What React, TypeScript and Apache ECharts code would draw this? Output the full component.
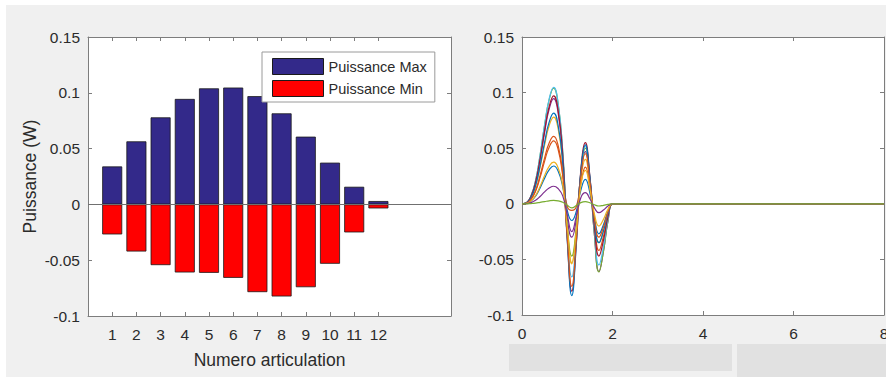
import React, { useEffect, useRef } from 'react';
import * as echarts from 'echarts';

// ---------- Left chart data ----------
const CATEGORIES = ['1', '2', '3', '4', '5', '6', '7', '8', '9', '10', '11', '12'];
const MAX_POWER = [0.034, 0.0565, 0.078, 0.0945, 0.104, 0.1047, 0.097, 0.0816, 0.0607, 0.0374, 0.0158, 0.003];
const MIN_POWER = [-0.0269, -0.0422, -0.0544, -0.061, -0.0613, -0.0658, -0.0786, -0.0825, -0.0742, -0.0532, -0.0251, -0.0036];
const Y_TICK_LABELS = ['-0.1', '-0.05', '0', '0.05', '0.1', '0.15'];

// ---------- Right chart data ----------
const TIME = [0, 0.1, 0.2, 0.3, 0.4, 0.5, 0.6, 0.7, 0.8, 0.9, 1.0, 1.1, 1.2, 1.3, 1.4, 1.5, 1.6, 1.7, 1.8, 1.9, 2.0, 2.1, 8];
const X_TICK_LABELS_RIGHT = ['0', '2', '4', '6', '8'];

const CURVE_J1 = [0, 0.0003, 0.0024, 0.0068, 0.0143, 0.0231, 0.0306, 0.034, 0.0292, 0.0153, -0.006, -0.015, -0.0068, 0.0121, 0.022, 0.0099, -0.0122, -0.027, -0.0189, -0.0068, 0, 0, 0];
const CURVE_J2 = [0, 0.0006, 0.004, 0.0113, 0.0237, 0.0384, 0.0509, 0.0565, 0.0486, 0.0254, -0.0024, -0.006, -0.0027, 0.0182, 0.033, 0.0149, -0.0189, -0.042, -0.0294, -0.0105, 0, 0, 0];
const CURVE_J3 = [0, 0.0008, 0.0055, 0.0156, 0.0328, 0.053, 0.0702, 0.078, 0.0671, 0.0351, -0.0216, -0.054, -0.0243, 0.022, 0.04, 0.018, -0.0158, -0.035, -0.0245, -0.0088, 0, 0, 0];
const CURVE_J4 = [0, 0.0009, 0.0066, 0.0189, 0.0397, 0.0643, 0.0851, 0.0945, 0.0813, 0.0425, -0.012, -0.03, -0.0135, 0.0259, 0.047, 0.0212, -0.0275, -0.061, -0.0427, -0.0153, 0, 0, 0];
const CURVE_J5 = [0, 0.001, 0.0073, 0.0208, 0.0437, 0.0707, 0.0936, 0.104, 0.0894, 0.0468, -0.0188, -0.047, -0.0212, 0.0275, 0.05, 0.0225, -0.0276, -0.0613, -0.0429, -0.0153, 0, 0, 0];
const CURVE_J6 = [0, 0.001, 0.0073, 0.0209, 0.044, 0.0712, 0.0942, 0.1047, 0.09, 0.0471, -0.0263, -0.0658, -0.0296, 0.0286, 0.052, 0.0234, -0.0248, -0.055, -0.0385, -0.0138, 0, 0, 0];
const CURVE_J7 = [0, 0.001, 0.0068, 0.0194, 0.0407, 0.066, 0.0873, 0.097, 0.0834, 0.0437, -0.0314, -0.0786, -0.0354, 0.0303, 0.055, 0.0248, -0.0212, -0.047, -0.0329, -0.0118, 0, 0, 0];
const CURVE_J8 = [0, 0.0008, 0.0057, 0.0163, 0.0343, 0.0555, 0.0734, 0.0816, 0.0702, 0.0367, -0.033, -0.0825, -0.0371, 0.0292, 0.053, 0.0239, -0.0158, -0.035, -0.0245, -0.0088, 0, 0, 0];
const CURVE_J9 = [0, 0.0006, 0.0042, 0.0121, 0.0255, 0.0413, 0.0546, 0.0607, 0.0522, 0.0273, -0.0297, -0.0742, -0.0334, 0.0248, 0.045, 0.0203, -0.0135, -0.03, -0.021, -0.0075, 0, 0, 0];
const CURVE_J10 = [0, 0.0004, 0.0026, 0.0075, 0.0157, 0.0254, 0.0337, 0.0374, 0.0322, 0.0168, -0.0212, -0.053, -0.0239, 0.0165, 0.03, 0.0135, -0.009, -0.02, -0.014, -0.005, 0, 0, 0];
const CURVE_J11 = [0, 0.0002, 0.0011, 0.0032, 0.0066, 0.0107, 0.0142, 0.0158, 0.0136, 0.0071, -0.01, -0.025, -0.0113, 0.0055, 0.01, 0.0045, -0.0036, -0.008, -0.0056, -0.002, 0, 0, 0];
const CURVE_J12 = [0, 0, 0.0002, 0.0006, 0.0013, 0.002, 0.0027, 0.003, 0.0026, 0.0014, -0.0014, -0.0036, -0.0016, 0.0011, 0.002, 0.0009, -0.0009, -0.002, -0.0014, -0.0005, 0, 0, 0];

const CURVES = [CURVE_J1, CURVE_J2, CURVE_J3, CURVE_J4, CURVE_J5, CURVE_J6, CURVE_J7, CURVE_J8, CURVE_J9, CURVE_J10, CURVE_J11, CURVE_J12];
const LINE_COLORS = ['#0072BD', '#D95319', '#EDB120', '#7E2F8E', '#77AC30', '#4DBEEE', '#A2142F'];

const FONT = '"Liberation Sans", Arial, Helvetica, sans-serif';
const AXIS_COLOR = '#7d7d7d';
const TEXT_COLOR = '#2b2b2b';
const TICK_FONT = 15.5;

export default function App() {
  const ref = useRef<HTMLDivElement>(null);

  useEffect(() => {
    const chart = echarts.init(ref.current!, null, { renderer: 'svg' });

    const slots = ['', ...CATEGORIES, '', '', ''];
    const catVisible = (index: number) => index >= 1 && index <= CATEGORIES.length;
    const yFmt = (v: number) => Y_TICK_LABELS[Math.round((v + 0.1) / 0.05)] ?? '';
    const xFmtRight = (v: number) => X_TICK_LABELS_RIGHT[Math.round(v / 2)] ?? '';

    const axisLine = { show: true, onZero: false, lineStyle: { color: AXIS_COLOR, width: 1 } };
    const tick = { show: true, inside: true, length: 4, lineStyle: { color: AXIS_COLOR, width: 1 } };
    const labelStyle = { color: TEXT_COLOR, fontSize: TICK_FONT, fontFamily: FONT };

    const grids = [
      { left: 88, top: 37, width: 363, height: 279, show: true, backgroundColor: '#ffffff', borderWidth: 0 },
      { left: 522, top: 37, width: 362, height: 278, show: true, backgroundColor: '#ffffff', borderWidth: 0 },
    ];

    const yBase = { type: 'value', min: -0.1, max: 0.15, interval: 0.05, splitLine: { show: false }, axisLine, };

    const option: any = {
      animation: false,
      backgroundColor: '#f0f0f0',
      grid: grids,
      legend: {
        data: ['Puissance Max', 'Puissance Min'],
        orient: 'vertical',
        left: 262,
        top: 52,
        itemWidth: 51,
        itemHeight: 16,
        itemGap: 5,
        padding: [6, 8, 5, 10],
        backgroundColor: '#ffffff',
        borderColor: '#9a9a9a',
        borderWidth: 1,
        icon: 'rect',
        itemStyle: { borderColor: '#1a1a1a', borderWidth: 1 },
        textStyle: { color: TEXT_COLOR, fontSize: 14.5, fontFamily: FONT },
        selectedMode: false,
      },
      xAxis: [
        {
          type: 'category', gridIndex: 0, data: slots, boundaryGap: false, position: 'bottom',
          axisLine, axisTick: { ...tick, interval: catVisible },
          axisLabel: { ...labelStyle, interval: catVisible, margin: 10 },
          splitLine: { show: false },
          name: 'Numero articulation', nameLocation: 'middle', nameGap: 35,
          nameTextStyle: { color: TEXT_COLOR, fontSize: 17.5, fontFamily: FONT },
        },
        {
          type: 'category', gridIndex: 0, data: slots, boundaryGap: false, position: 'top',
          axisLine, axisTick: { ...tick, interval: catVisible }, axisLabel: { show: false },
          splitLine: { show: false },
        },
        {
          type: 'value', gridIndex: 1, min: 0, max: 8, interval: 2, position: 'bottom',
          axisLine, axisTick: tick,
          axisLabel: { ...labelStyle, margin: 10, formatter: xFmtRight },
          splitLine: { show: false },
        },
        {
          type: 'value', gridIndex: 1, min: 0, max: 8, interval: 2, position: 'top',
          axisLine, axisTick: tick, axisLabel: { show: false }, splitLine: { show: false },
        },
      ],
      yAxis: [
        {
          ...yBase, gridIndex: 0, position: 'left', axisTick: tick,
          axisLabel: { ...labelStyle, margin: 8, formatter: yFmt },
          name: 'Puissance (W)', nameLocation: 'middle', nameGap: 49, nameRotate: 90,
          nameTextStyle: { color: TEXT_COLOR, fontSize: 17.5, fontFamily: FONT },
        },
        { ...yBase, gridIndex: 0, position: 'right', axisTick: tick, axisLabel: { show: false } },
        {
          ...yBase, gridIndex: 1, position: 'left', axisTick: tick,
          axisLabel: { ...labelStyle, margin: 8, formatter: yFmt },
        },
        { ...yBase, gridIndex: 1, position: 'right', axisTick: tick, axisLabel: { show: false } },
      ],
      graphic: [
        { type: 'rect', shape: { x: 0, y: 0, width: 920, height: 5 }, style: { fill: '#ffffff' }, silent: true },
        { type: 'rect', shape: { x: 0, y: 0, width: 6, height: 377 }, style: { fill: '#ffffff' }, silent: true },
        { type: 'rect', shape: { x: 509, y: 344, width: 223, height: 27 }, style: { fill: '#e1e1e1' }, silent: true },
        { type: 'rect', shape: { x: 737, y: 344, width: 183, height: 33 }, style: { fill: '#e1e1e1' }, silent: true },
      ],
      series: [
        {
          name: 'Puissance Max', type: 'bar', xAxisIndex: 0, yAxisIndex: 0,
          data: MAX_POWER.map((v, i) => [i + 1, v]),
          barWidth: 20, barGap: '-100%',
          itemStyle: { color: '#33298a', borderColor: '#1a1a1a', borderWidth: 0.8 },
        },
        {
          name: 'Puissance Min', type: 'bar', xAxisIndex: 0, yAxisIndex: 0,
          data: MIN_POWER.map((v, i) => [i + 1, v]),
          barWidth: 20, barGap: '-100%',
          itemStyle: { color: '#ff0000', borderColor: '#1a1a1a', borderWidth: 0.8 },
          markLine: {
            silent: true, symbol: 'none', label: { show: false },
            lineStyle: { color: '#707070', type: 'solid', width: 1.2 },
            data: [{ yAxis: 0 }],
          },
        },
        ...CURVES.map((curve, k) => ({
          name: 'J' + (k + 1), type: 'line', xAxisIndex: 2, yAxisIndex: 2,
          data: TIME.map((t, i) => [t, curve[i]]),
          showSymbol: false, symbol: 'none', smooth: 0.5,
          lineStyle: { color: LINE_COLORS[k % LINE_COLORS.length], width: 1.2 },
          itemStyle: { color: LINE_COLORS[k % LINE_COLORS.length] },
        })),
      ],
    };

    chart.setOption(option);
    return () => chart.dispose();
  }, []);

  return (
    <div style={{ position: 'fixed', left: 0, top: 0, width: 886, height: 377, overflow: 'hidden', background: '#f0f0f0' }}>
      <div ref={ref} style={{ width: 920, height: 377 }} />
    </div>
  );
}
